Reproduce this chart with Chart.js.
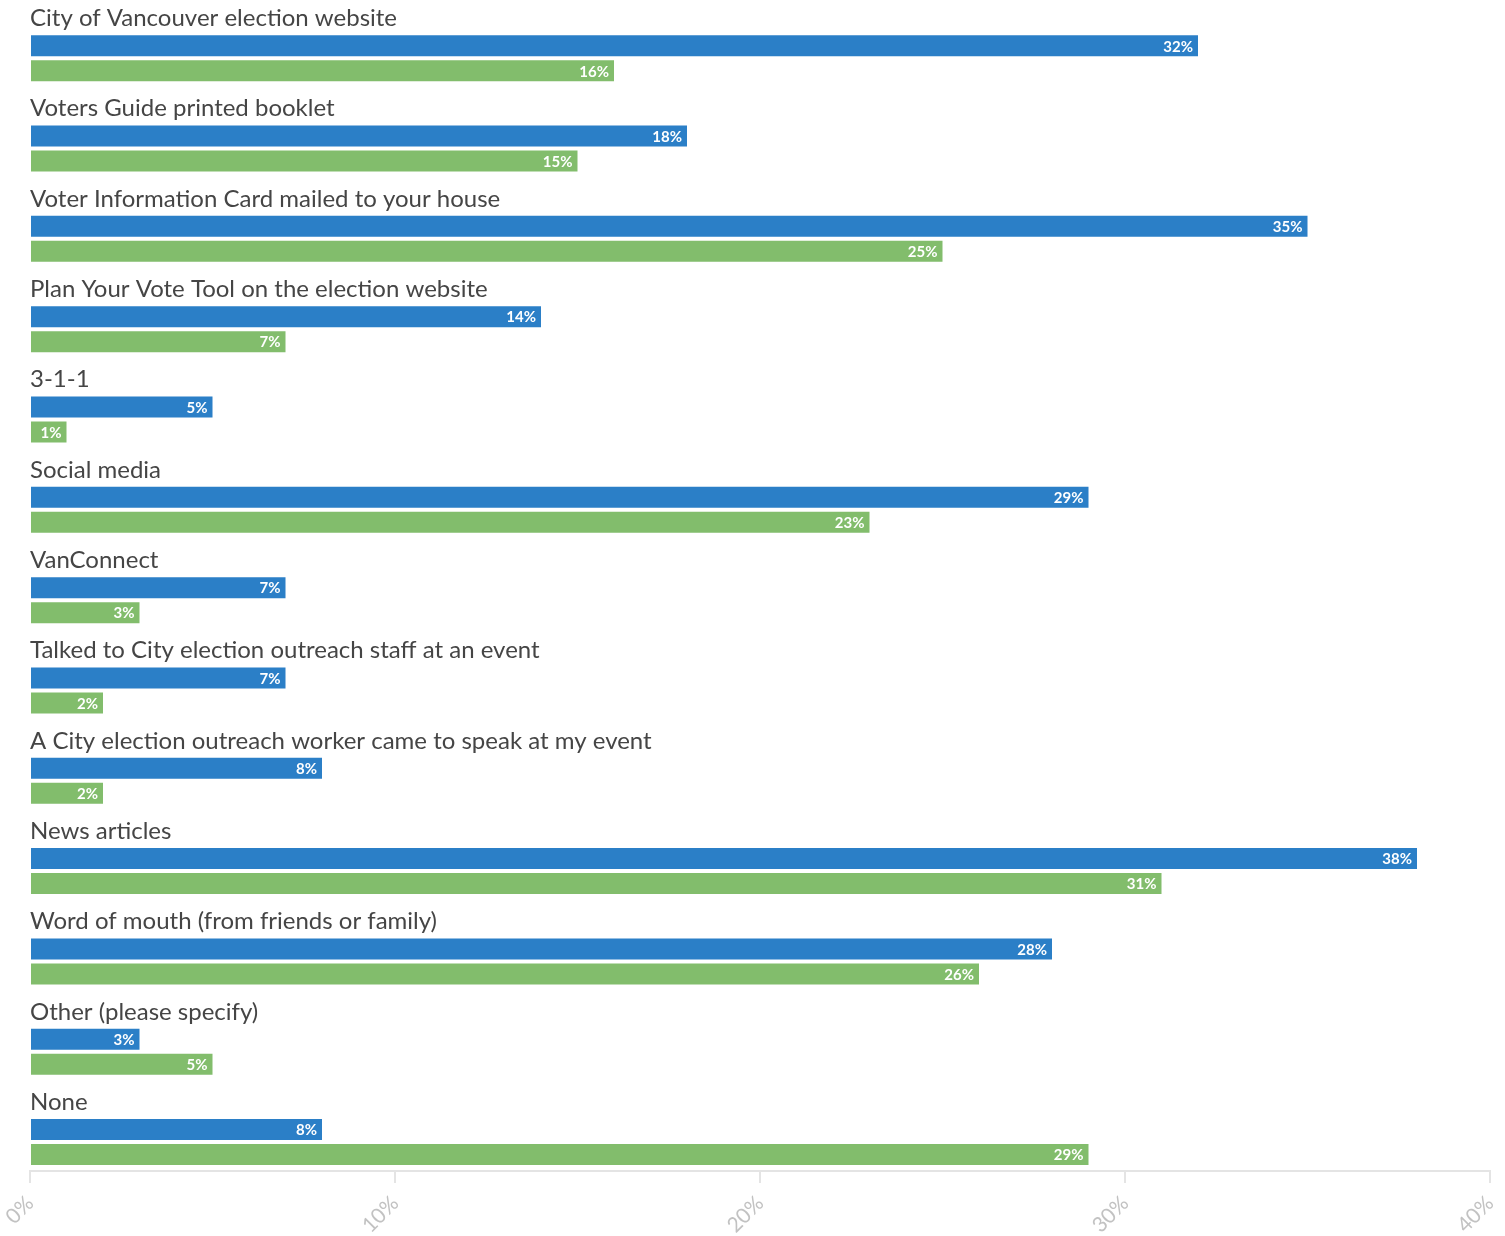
<!DOCTYPE html>
<html>
<head>
<meta charset="utf-8">
<title>Election information sources</title>
<script src="https://cdn.jsdelivr.net/npm/chart.js@4.4.0/dist/chart.umd.min.js"></script>
<style>
  html, body { margin: 0; padding: 0; background: #fff; }
  .wrap { position: relative; width: 1505px; height: 1236px; }
</style>
</head>
<body>
<div class="wrap"><canvas id="sources"></canvas></div>
<script>
const categories = [
  'City of Vancouver election website',
  'Voters Guide printed booklet',
  'Voter Information Card mailed to your house',
  'Plan Your Vote Tool on the election website',
  '3-1-1',
  'Social media',
  'VanConnect',
  'Talked to City election outreach staff at an event',
  'A City election outreach worker came to speak at my event',
  'News articles',
  'Word of mouth (from friends or family)',
  'Other (please specify)',
  'None'
];
const blueValues = [32, 18, 35, 14, 5, 29, 7, 7, 8, 38, 28, 3, 8];
const greenValues = [16, 15, 25, 7, 1, 23, 3, 2, 2, 31, 26, 5, 29];
const tickValues = [0, 10, 20, 30, 40];

const BLUE = '#2b7fc7';
const GREEN = '#82bd6c';

// bars sit on a numeric index axis so the group spacing can be tuned freely
const toPoints = (vals) => vals.map((v, i) => ({ x: v, y: i }));

// category name written above each pair of bars
const groupLabels = {
  id: 'groupLabels',
  afterDatasetsDraw(chart) {
    const { ctx, chartArea, scales: { y } } = chart;
    ctx.save();
    ctx.font = '24px Lato';
    ctx.fillStyle = '#454545';
    ctx.textAlign = 'left';
    ctx.textBaseline = 'alphabetic';
    categories.forEach((name, i) => {
      ctx.fillText(name, chartArea.left, y.getPixelForValue(i) - 32);
    });
    ctx.restore();
  }
};

// percentage printed inside the end of every bar
const valueLabels = {
  id: 'valueLabels',
  afterDatasetsDraw(chart) {
    const { ctx } = chart;
    ctx.save();
    ctx.font = 'bold 15px Lato';
    ctx.fillStyle = '#ffffff';
    ctx.textAlign = 'right';
    ctx.textBaseline = 'middle';
    chart.data.datasets.forEach((ds, d) => {
      chart.getDatasetMeta(d).data.forEach((bar, i) => {
        ctx.fillText(ds.data[i].x + '%', bar.x - 5, bar.y + 1);
      });
    });
    ctx.restore();
  }
};

new Chart(document.getElementById('sources'), {
  type: 'bar',
  data: {
    datasets: [
      { label: 'Series 1', data: toPoints(blueValues), backgroundColor: BLUE },
      { label: 'Series 2', data: toPoints(greenValues), backgroundColor: GREEN }
    ]
  },
  options: {
    indexAxis: 'y',
    responsive: true,
    maintainAspectRatio: false,
    animation: false,
    categoryPercentage: 0.5535,
    barPercentage: 0.84,
    layout: { padding: { top: 13, left: 30, right: 15, bottom: 0 } },
    plugins: {
      legend: { display: false },
      tooltip: { callbacks: { label: (c) => ' ' + c.parsed.x + '%' } }
    },
    scales: {
      y: {
        type: 'linear',
        reverse: true,
        offset: false,
        grid: { offset: false },
        min: -0.5,
        max: 12.32,
        afterBuildTicks: (s) => { s.ticks = categories.map((c, i) => ({ value: i })); },
        display: false
      },
      x: {
        type: 'linear',
        position: 'bottom',
        min: 0,
        max: 40,
        afterBuildTicks: (s) => { s.ticks = tickValues.map((v) => ({ value: v })); },
        afterFit: (s) => {
          // rotated labels may overhang the sides; keep the plot width fixed
          s.height = 65;
          s.paddingLeft = 0;
          s.paddingRight = 0;
        },
        grid: { drawOnChartArea: false, tickLength: 12, color: '#e4e4e4', lineWidth: 2 },
        border: { color: '#e4e4e4', width: 2 },
        ticks: {
          color: '#c2c2c2',
          font: { family: 'Lato', size: 21 },
          padding: 8,
          minRotation: 45,
          maxRotation: 45,
          callback: (v) => v + '%'
        }
      }
    }
  },
  plugins: [groupLabels, valueLabels]
});
</script>
</body>
</html>
